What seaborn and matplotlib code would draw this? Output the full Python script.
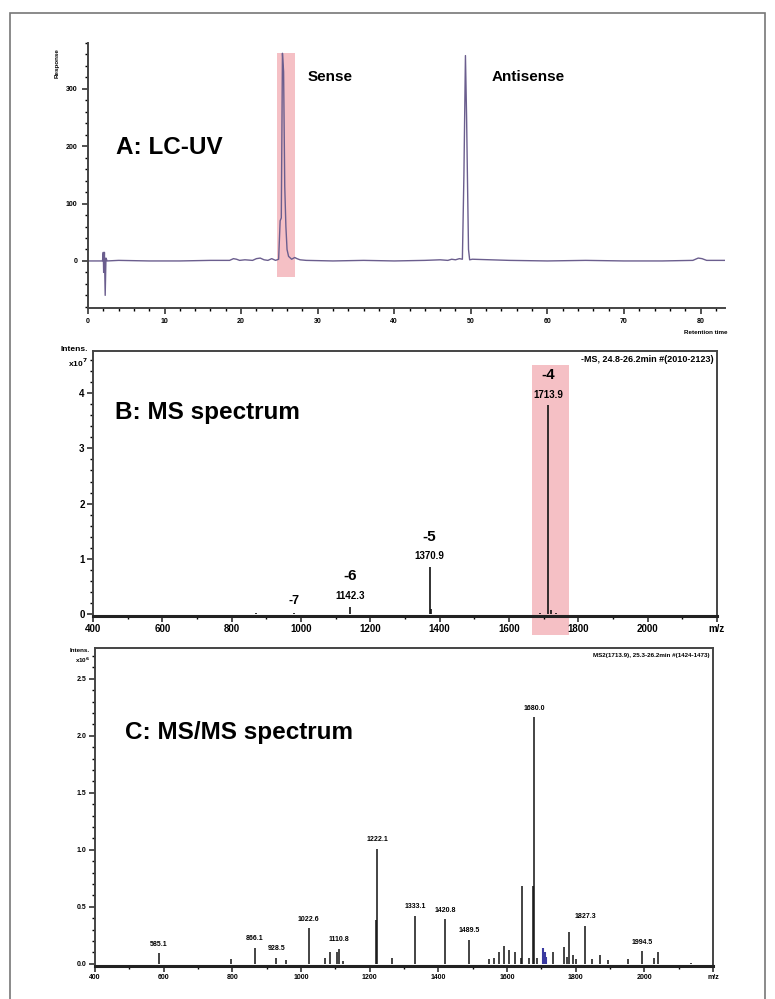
import matplotlib
matplotlib.use("Agg")
import matplotlib.pyplot as plt
from matplotlib.patches import Rectangle
from matplotlib.ticker import MultipleLocator, FixedLocator
import seaborn as sns

sns.set_style("ticks")
plt.rcParams['font.family'] = ['Liberation Sans', 'DejaVu Sans']
plt.rcParams['font.weight'] = 'bold'
plt.rcParams['text.color'] = 'black'
plt.rcParams['xtick.color'] = 'black'
plt.rcParams['ytick.color'] = 'black'

# A: LC-UV chromatogram (retention time in min, response)
rt = [0.0, 1.9, 2.0, 2.05, 2.15, 2.25, 2.35, 2.5, 4.0, 8.0, 12.0, 16.0,
      18.5, 19.0, 19.4, 19.8, 20.5, 21.5, 22.0, 22.5, 23.0, 23.5, 24.0, 24.5,
      24.9, 25.1, 25.25, 25.4, 25.55, 25.7, 25.85, 26.0, 26.2, 26.6, 27.0, 27.3,
      27.7, 28.5, 32.0, 36.0, 40.0, 44.0, 46.0, 47.0, 47.5, 48.0, 48.5, 48.9,
      49.1, 49.3, 49.45, 49.55, 49.7, 49.85, 50.2, 55.0, 60.0, 65.0, 70.0, 75.0,
      79.0, 79.7, 80.2, 80.8, 83.2]
response = [0, 0, 15, -20, 15, -60, 5, 0, 1, 0, 0, 1,
            1, 4, 3, 1, 2, 1, 4, 5, 2, 1, 4, 1,
            3, 70, 75, 362, 330, 130, 60, 20, 8, 3, 6, 4,
            2, 1, 0, 1, 0, 1, 2, 1, 3, 2, 4, 3,
            150, 358, 250, 155, 20, 2, 3, 1, 0, 1, 0, 0,
            1, 5, 4, 1, 1]
uv_peak_names = ["Sense", "Antisense"]
uv_peak_label_rt = [28.7, 52.7]

# B: MS spectrum (m/z, intensity x10^7)
ms_mz = [870, 980, 1142.3, 1370.9, 1375, 1690, 1713.9, 1720, 1735]
ms_int = [0.02, 0.03, 0.14, 0.86, 0.10, 0.03, 3.78, 0.08, 0.02]
ms_lab_mz = [980, 1142.3, 1370.9, 1713.9]
ms_lab_int = [0.03, 0.14, 0.86, 3.78]
ms_lab_text = ["", "1142.3", "1370.9", "1713.9"]
ms_charge = ["-7", "-6", "-5", "-4"]

# C: MS/MS spectrum (m/z, intensity x10^6)
msms_mz = [585.1, 795, 866.1, 928.5, 956, 1022.6, 1069, 1085, 1105, 1110.8,
           1122, 1219, 1222.1, 1265, 1333.1, 1420.8, 1489.5, 1547, 1562, 1576,
           1590, 1606, 1622, 1640, 1645, 1664, 1676, 1680.0, 1688, 1734,
           1766, 1774, 1781, 1791, 1800, 1827.3, 1849, 1870, 1893, 1951,
           1994.5, 2027, 2039, 2136]
msms_int = [0.09, 0.04, 0.14, 0.05, 0.03, 0.31, 0.05, 0.10, 0.10, 0.13,
            0.02, 0.38, 1.01, 0.05, 0.42, 0.39, 0.21, 0.04, 0.05, 0.10,
            0.16, 0.12, 0.10, 0.05, 0.68, 0.05, 0.68, 2.16, 0.05, 0.10,
            0.15, 0.06, 0.28, 0.08, 0.04, 0.33, 0.04, 0.08, 0.03, 0.04,
            0.11, 0.05, 0.10, 0.01]
msms_blue_mz = [1706, 1710, 1714]
msms_blue_int = [0.14, 0.10, 0.06]
msms_labels = ["585.1", "866.1", "928.5", "1022.6", "1110.8", "1222.1",
               "1333.1", "1420.8", "1489.5", "1680.0", "1827.3", "1994.5"]
msms_lab_int = [0.09, 0.14, 0.05, 0.31, 0.13, 1.01,
                0.42, 0.39, 0.21, 2.16, 0.33, 0.11]

fig = plt.figure(figsize=(7.75, 9.99), dpi=100)
fig.patches.append(Rectangle((0.013, -0.01), 0.974, 0.997, transform=fig.transFigure,
                             fill=False, edgecolor='#777777', lw=1.2))

# ---------------- A ----------------
axA = fig.add_axes([0.1135, 0.6917, 0.822, 0.2653])
axA.add_patch(Rectangle((24.7, -28), 2.3, 391, color='#f5c0c5', lw=0, zorder=0))
sns.lineplot(x=rt, y=response, ax=axA, color='#6b5e8e', lw=1.0,
             estimator=None, sort=False)
axA.set_xlim(0, 83.2)
axA.set_ylim(-82, 380)
axA.xaxis.set_major_locator(MultipleLocator(10))
axA.xaxis.set_minor_locator(MultipleLocator(2))
axA.yaxis.set_major_locator(FixedLocator([0, 100, 200, 300]))
axA.yaxis.set_minor_locator(MultipleLocator(20))
axA.tick_params(labelsize=5, length=4, width=1.2, color='#333333')
axA.tick_params(which='minor', length=2.5, width=1)
for s in ['top', 'right']:
    axA.spines[s].set_visible(False)
for s in ['left', 'bottom']:
    axA.spines[s].set_color('#444444')
    axA.spines[s].set_linewidth(1.4)
axA.text(3.7, 198, "A: LC-UV", fontsize=17.5, fontweight='bold', va='center')
for name, x in zip(uv_peak_names, uv_peak_label_rt):
    axA.text(x, 320, name, fontsize=11, va='center')
fig.text(57 / 775, 1 - 63 / 999, "Response", rotation=90, fontsize=4.5,
         ha='center', va='center')
fig.text(706 / 775, 1 - 332 / 999, "Retention time", fontsize=4.5,
         ha='center', va='center')

# ---------------- B ----------------
xt = list(range(400, 2201, 200))
axB = fig.add_axes([0.12, 0.3834, 0.805, 0.2653])
axB.add_patch(Rectangle((1668, -0.38), 105, 4.88, color='#f5c0c5', lw=0,
                        zorder=0, clip_on=False))
axB.vlines(ms_mz, 0, ms_int, color='#111111', lw=1.2)
axB.set_xlim(400, 2200)
axB.set_ylim(-0.03, 4.76)
axB.set_xticks(xt)
axB.set_xticklabels([str(v) for v in xt[:-1]] + ["m/z"])
axB.xaxis.set_minor_locator(MultipleLocator(100))
axB.set_yticks([0, 1, 2, 3, 4])
axB.yaxis.set_minor_locator(MultipleLocator(0.2))
axB.tick_params(labelsize=7, length=4, width=1.2, color='#333333', pad=2)
axB.tick_params(which='minor', length=2.5, width=1)
for s in axB.spines.values():
    s.set_color('#444444')
    s.set_linewidth(1.4)
axB.spines['bottom'].set_linewidth(2.2)
axB.spines['bottom'].set_color('#222222')
for x, h, lab, ch in zip(ms_lab_mz, ms_lab_int, ms_lab_text, ms_charge):
    if lab:
        axB.text(x, h + 0.1, lab, fontsize=7, ha='center', va='bottom')
        axB.text(x, h + 0.42, ch, fontsize=11, ha='center', va='bottom')
    else:
        axB.text(x, h + 0.1, ch, fontsize=9, ha='center', va='bottom')
axB.text(464, 3.64, "B: MS spectrum", fontsize=17.5, fontweight='bold', va='center')
axB.text(0.995, 0.985, "-MS, 24.8-26.2min #(2010-2123)", transform=axB.transAxes,
         fontsize=6.5, ha='right', va='top')
axB.text(-0.008, 1.02, "Intens.\nx10$^7$", transform=axB.transAxes, fontsize=6,
         ha='right', va='top', linespacing=1.4)

# ---------------- C ----------------
axC = fig.add_axes([0.1226, 0.033, 0.7974, 0.3184])
axC.vlines(msms_mz, 0, msms_int, color='#111111', lw=1.1)
axC.vlines(msms_blue_mz, 0, msms_blue_int, color='#3a3aa0', lw=1.5)
axC.set_xlim(400, 2200)
axC.set_ylim(-0.02, 2.77)
axC.set_xticks(xt)
axC.set_xticklabels([str(v) for v in xt[:-1]] + ["m/z"])
axC.xaxis.set_minor_locator(MultipleLocator(100))
axC.set_yticks([0.0, 0.5, 1.0, 1.5, 2.0, 2.5])
axC.set_yticklabels(["0.0", "0.5", "1.0", "1.5", "2.0", "2.5"])
axC.yaxis.set_minor_locator(MultipleLocator(0.1))
axC.tick_params(labelsize=5, length=4, width=1.2, color='#333333', pad=2)
axC.tick_params(which='minor', length=2.5, width=1)
for s in axC.spines.values():
    s.set_color('#444444')
    s.set_linewidth(1.4)
axC.spines['bottom'].set_linewidth(2.2)
axC.spines['bottom'].set_color('#222222')
for lab, h in zip(msms_labels, msms_lab_int):
    axC.text(float(lab), h + 0.05, lab, fontsize=5, ha='center', va='bottom')
axC.text(488, 2.03, "C: MS/MS spectrum", fontsize=17.5, fontweight='bold', va='center')
axC.text(0.995, 0.985, "MS2(1713.9), 25.3-26.2min #(1424-1473)",
         transform=axC.transAxes, fontsize=4.5, ha='right', va='top')
axC.text(-0.008, 1.0, "Intens.\nx10$^6$", transform=axC.transAxes, fontsize=4.5,
         ha='right', va='top', linespacing=1.4)

fig.savefig("out.png", dpi=100)
